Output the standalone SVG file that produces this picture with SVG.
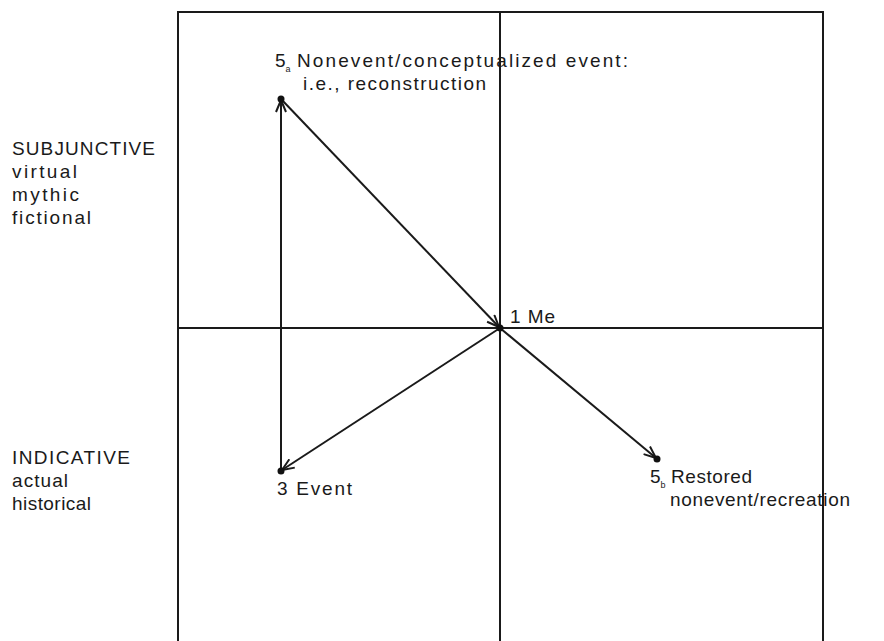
<svg xmlns="http://www.w3.org/2000/svg" width="884" height="641" viewBox="0 0 884 641">
<style>
.frame{fill:none;stroke:#1a1a1a;stroke-width:2}
.conn{fill:none;stroke:#1a1a1a;stroke-width:2}
.t{font-family:"Liberation Sans","DejaVu Sans",sans-serif;font-size:19px;fill:#1a1a1a}
.sub{font-size:9px}
.dot{fill:#111}
</style>
<defs>
<marker id="arr" markerUnits="userSpaceOnUse" markerWidth="14" markerHeight="12" viewBox="0 0 14 12" refX="13" refY="6" orient="auto">
<path d="M1,1 L13,6 L1,11" fill="none" stroke="#1a1a1a" stroke-width="2"/>
</marker>
</defs>
<rect width="884" height="641" fill="#fff"/>
<g id="frame">
<path class="frame" d="M178,641 V12 H823 V641"/>
<line class="frame" x1="500" y1="12" x2="500" y2="641"/>
<line class="frame" x1="178" y1="328" x2="823" y2="328"/>
</g>
<g id="connectors">
<line class="conn" x1="281" y1="99" x2="499" y2="327" marker-end="url(#arr)"/>
<line class="conn" x1="500" y1="328" x2="282" y2="470" marker-end="url(#arr)"/>
<line class="conn" x1="500" y1="328" x2="656" y2="458" marker-end="url(#arr)"/>
<line class="conn" x1="281" y1="471" x2="281" y2="100" marker-end="url(#arr)"/>
</g>
<g id="node-5a">
<circle class="dot" cx="281" cy="99" r="3.5"/>
<text class="t" x="275" y="67">5<tspan class="sub" dy="5">a</tspan><tspan dy="-5" x="297" textLength="331" lengthAdjust="spacing">Nonevent/conceptualized event:</tspan></text>
<text class="t" x="303" y="90" textLength="183" lengthAdjust="spacing">i.e., reconstruction</text>
</g>
<g id="node-me">
<circle class="dot" cx="500" cy="328" r="3.5"/>
<text class="t" x="510" y="323" textLength="45" lengthAdjust="spacing">1 Me</text>
</g>
<g id="node-event">
<circle class="dot" cx="281" cy="471" r="3.5"/>
<text class="t" x="277" y="495" textLength="75" lengthAdjust="spacing">3 Event</text>
</g>
<g id="node-5b">
<circle class="dot" cx="657" cy="459" r="3.5"/>
<text class="t" x="650" y="483">5<tspan class="sub" dy="5">b</tspan><tspan dy="-5" x="671" textLength="81" lengthAdjust="spacing">Restored</tspan></text>
<text class="t" x="670" y="506" textLength="180" lengthAdjust="spacing">nonevent/recreation</text>
</g>
<g id="label-subjunctive">
<text class="t" x="12" y="155" textLength="143" lengthAdjust="spacing">SUBJUNCTIVE</text>
<text class="t" x="12" y="178" textLength="65" lengthAdjust="spacing">virtual</text>
<text class="t" x="12" y="201" textLength="67" lengthAdjust="spacing">mythic</text>
<text class="t" x="12" y="224" textLength="79" lengthAdjust="spacing">fictional</text>
</g>
<g id="label-indicative">
<text class="t" x="12" y="464" textLength="118" lengthAdjust="spacing">INDICATIVE</text>
<text class="t" x="12" y="487" textLength="56" lengthAdjust="spacing">actual</text>
<text class="t" x="12" y="510" textLength="79" lengthAdjust="spacing">historical</text>
</g>
</svg>
